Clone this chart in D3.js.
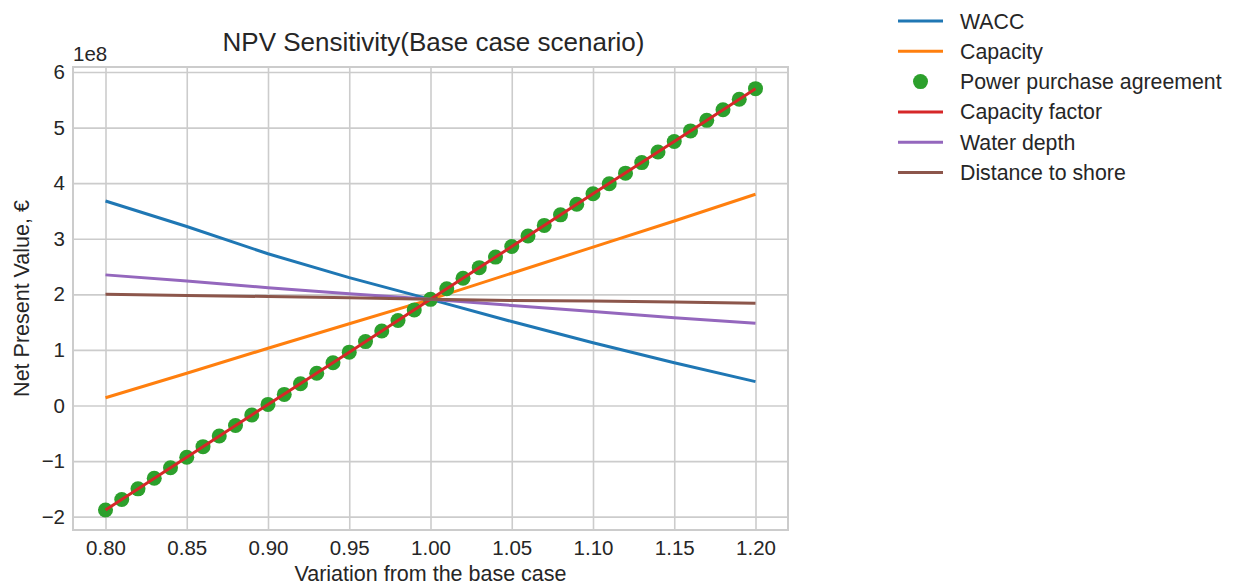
<!DOCTYPE html>
<html>
<head>
<meta charset="utf-8">
<script src="https://cdn.jsdelivr.net/npm/d3@7"></script>
<style>
  body { margin: 0; background: #fff; }
  text { font-family: "Liberation Sans", Arial, sans-serif; fill: #262626; }
  .grid line { stroke: #cccccc; stroke-width: 1.6; }
  .grid path { display: none; }
  .axis path, .axis line { display: none; }
</style>
</head>
<body>
<div id="chart"></div>
<script>
// datos (valores en 1e8 euros)
const xLine = [0.80, 0.85, 0.90, 0.95, 1.00, 1.05, 1.10, 1.15, 1.20]
const wacc = [3.68, 3.22, 2.73, 2.30, 1.91, 1.51, 1.13, 0.77, 0.43]
const capacity = [0.14, 0.58, 1.03, 1.47, 1.91, 2.38, 2.85, 3.32, 3.80]
const capacityFactor = [-1.88, -0.93, 0.02, 0.96, 1.91, 2.86, 3.81, 4.75, 5.70]
const waterDepth = [2.35, 2.24, 2.12, 2.01, 1.91, 1.80, 1.69, 1.58, 1.48]
const distanceShore = [2.00, 1.98, 1.96, 1.94, 1.91, 1.89, 1.88, 1.86, 1.84]

const xPpa = [0.80, 0.81, 0.82, 0.83, 0.84, 0.85, 0.86, 0.87, 0.88, 0.89,
              0.90, 0.91, 0.92, 0.93, 0.94, 0.95, 0.96, 0.97, 0.98, 0.99,
              1.00, 1.01, 1.02, 1.03, 1.04, 1.05, 1.06, 1.07, 1.08, 1.09,
              1.10, 1.11, 1.12, 1.13, 1.14, 1.15, 1.16, 1.17, 1.18, 1.19, 1.20]
const ppa = [-1.88, -1.69, -1.50, -1.31, -1.12, -0.93, -0.74, -0.55, -0.36, -0.17,
             0.02, 0.20, 0.39, 0.58, 0.77, 0.96, 1.15, 1.34, 1.53, 1.72,
             1.91, 2.10, 2.29, 2.48, 2.67, 2.86, 3.05, 3.24, 3.43, 3.62,
             3.81, 3.99, 4.18, 4.37, 4.56, 4.75, 4.94, 5.13, 5.32, 5.51, 5.70]

const xTicks = [0.80, 0.85, 0.90, 0.95, 1.00, 1.05, 1.10, 1.15, 1.20]
const yTicks = [-2, -1, 0, 1, 2, 3, 4, 5, 6]

const legendNames = ["WACC", "Capacity", "Power purchase agreement", "Capacity factor", "Water depth", "Distance to shore"]
const colors = ["#1f77b4", "#ff7f0e", "#2ca02c", "#d62728", "#9467bd", "#8c564b"]

const width = 1237
const height = 586
const margin = { top: 67, bottom: 56, left: 73, right: 449 }

const svg = d3.select("#chart").append("svg").attr("width", width).attr("height", height)
const plot = svg.append("g").attr("transform", `translate(${margin.left},${margin.top})`)
const w = width - margin.left - margin.right
const h = height - margin.top - margin.bottom

const x = d3.scaleLinear().domain([0.78, 1.22]).range([0, w])
const y = d3.scaleLinear().domain([-2.24, 6.09]).range([h, 0])

// rejilla
plot.append("g").attr("class", "grid")
    .attr("transform", `translate(0,${h})`)
    .call(d3.axisBottom(x).tickValues(xTicks).tickSize(-h).tickFormat(""))
plot.append("g").attr("class", "grid")
    .call(d3.axisLeft(y).tickValues(yTicks).tickSize(-w).tickFormat(""))

// bordes
plot.append("rect").attr("width", w).attr("height", h)
    .attr("fill", "none").attr("stroke", "#cccccc").attr("stroke-width", 2)

// etiquetas de los ejes
const xAxisG = plot.append("g").attr("class", "axis")
    .attr("transform", `translate(0,${h})`)
    .call(d3.axisBottom(x).tickValues(xTicks).tickSize(0).tickPadding(10).tickFormat(d3.format(".2f")))
xAxisG.selectAll("text").attr("font-size", 20.5).attr("fill", "#262626")
const yAxisG = plot.append("g").attr("class", "axis")
    .call(d3.axisLeft(y).tickValues(yTicks).tickSize(0).tickPadding(8).tickFormat(d => d < 0 ? "\u2212" + Math.abs(d) : d))
yAxisG.selectAll("text").attr("font-size", 20.5).attr("fill", "#262626")

// series
const line = d3.line().x(d => x(d[0])).y(d => y(d[1]))
function drawLine(xs, vals, color) {
    plot.append("path")
        .datum(xs.map((v, i) => [v, vals[i]]))
        .attr("d", line)
        .attr("fill", "none")
        .attr("stroke", color)
        .attr("stroke-width", 3)
}
drawLine(xLine, wacc, colors[0])
drawLine(xLine, capacity, colors[1])
plot.append("g").selectAll("circle")
    .data(xPpa.map((v, i) => [v, ppa[i]]))
    .join("circle")
    .attr("cx", d => x(d[0]))
    .attr("cy", d => y(d[1]))
    .attr("r", 7.5)
    .attr("fill", colors[2])
drawLine(xLine, capacityFactor, colors[3])
drawLine(xLine, waterDepth, colors[4])
drawLine(xLine, distanceShore, colors[5])

// textos
svg.append("text").text("NPV Sensitivity(Base case scenario)")
    .attr("x", margin.left + w / 2 + 3).attr("y", 51)
    .attr("text-anchor", "middle").attr("font-size", 26)
svg.append("text").text("1e8")
    .attr("x", margin.left).attr("y", 61).attr("font-size", 20.5)
svg.append("text").text("Variation from the base case")
    .attr("x", margin.left + w / 2).attr("y", 581)
    .attr("text-anchor", "middle").attr("font-size", 21.5)
svg.append("text").text("Net Present Value, \u20ac")
    .attr("transform", `translate(29,${margin.top + h / 2}) rotate(-90)`)
    .attr("text-anchor", "middle").attr("font-size", 21.5)

// leyenda
const legend = svg.append("g").attr("transform", "translate(898,21)")
legendNames.forEach((name, i) => {
    const g = legend.append("g").attr("transform", `translate(0,${i * 30.3})`)
    if (i === 2) {
        g.append("circle").attr("cx", 22.5).attr("cy", 0).attr("r", 7.5).attr("fill", colors[i])
    } else {
        g.append("line").attr("x1", 0).attr("x2", 45).attr("y1", 0).attr("y2", 0)
            .attr("stroke", colors[i]).attr("stroke-width", 3)
    }
    g.append("text").text(name).attr("x", 62).attr("y", 7.5).attr("font-size", 21.3)
})
</script>
</body>
</html>
